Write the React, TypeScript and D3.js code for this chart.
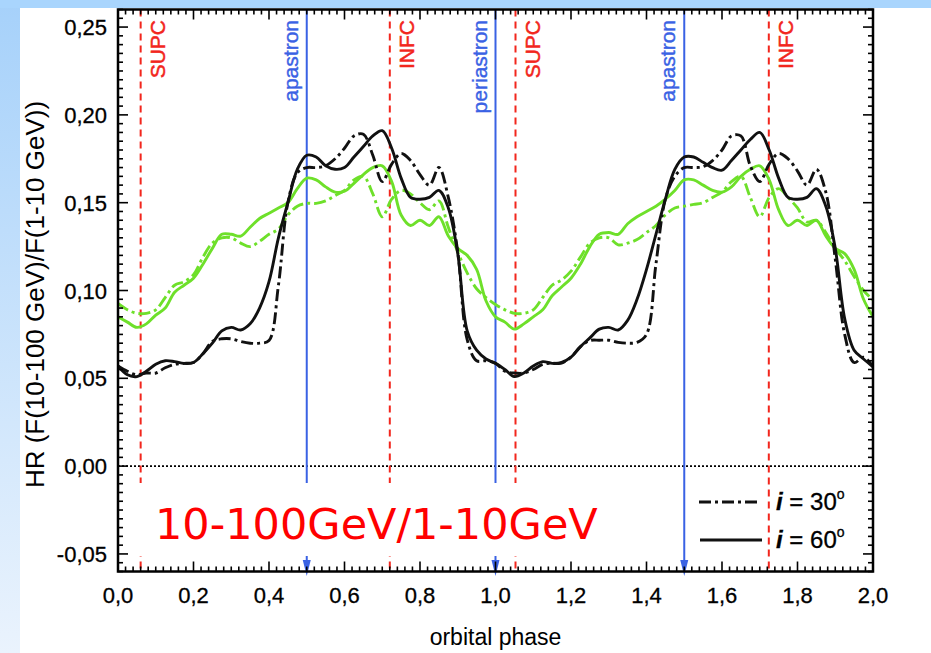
import React from "react";
import * as d3 from "d3";

// orbital phase grid (two orbits)
const PHASE = [
  0, 0.025, 0.05, 0.075, 0.1, 0.125, 0.15, 0.175, 0.2, 0.225, 0.25, 0.275, 0.3, 0.325, 0.35, 0.375, 0.4, 0.425, 0.45, 0.475,
  0.5, 0.525, 0.55, 0.575, 0.6, 0.625, 0.65, 0.675, 0.7, 0.725, 0.75, 0.775, 0.8, 0.825, 0.85, 0.875, 0.9, 0.925, 0.95, 0.975,
  1, 1.025, 1.05, 1.075, 1.1, 1.125, 1.15, 1.175, 1.2, 1.225, 1.25, 1.275, 1.3, 1.325, 1.35, 1.375, 1.4, 1.425, 1.45, 1.475,
  1.5, 1.525, 1.55, 1.575, 1.6, 1.625, 1.65, 1.675, 1.7, 1.725, 1.75, 1.775, 1.8, 1.825, 1.85, 1.875, 1.9, 1.925, 1.95, 1.975,
  2,
];

// black, i = 60 deg (solid)
const HR_BLACK_I60 = [
  0.057, 0.052, 0.051, 0.054, 0.058, 0.06, 0.0595, 0.0585, 0.059, 0.064, 0.07, 0.077, 0.079, 0.0775, 0.081, 0.09, 0.105, 0.13, 0.15, 0.169,
  0.177, 0.176, 0.171, 0.169, 0.17, 0.176, 0.182, 0.188, 0.191, 0.181, 0.164, 0.153, 0.152, 0.153, 0.157, 0.147, 0.121, 0.077, 0.066, 0.061,
  0.0585, 0.055, 0.051, 0.053, 0.057, 0.0595, 0.0585, 0.059, 0.062, 0.068, 0.073, 0.078, 0.079, 0.0775, 0.083, 0.095, 0.112, 0.132, 0.152, 0.169,
  0.176, 0.176, 0.173, 0.17, 0.1685, 0.174, 0.18, 0.186, 0.19, 0.18, 0.164, 0.153, 0.152, 0.153, 0.158, 0.148, 0.124, 0.084, 0.066, 0.061,
  0.0565,
];

// black, i = 30 deg (dash-dot)
const HR_BLACK_I30 = [
  0.057, 0.054, 0.052, 0.053, 0.053, 0.056, 0.058, 0.0585, 0.059, 0.064, 0.071, 0.0725, 0.0725, 0.071, 0.07, 0.07, 0.0715, 0.103, 0.15, 0.167,
  0.17, 0.17, 0.171, 0.175, 0.181, 0.188, 0.189, 0.177, 0.162, 0.172, 0.178, 0.174, 0.166, 0.16, 0.17, 0.153, 0.122, 0.072, 0.06, 0.06,
  0.0586, 0.054, 0.053, 0.053, 0.055, 0.058, 0.0586, 0.0586, 0.062, 0.068, 0.0715, 0.0717, 0.0717, 0.0705, 0.07, 0.0705, 0.075, 0.115, 0.152, 0.165,
  0.17, 0.17, 0.1705, 0.174, 0.18, 0.188, 0.188, 0.171, 0.162, 0.172, 0.178, 0.175, 0.168, 0.16, 0.169, 0.156, 0.118, 0.075, 0.059, 0.062,
  0.0566,
];

// green, i = 60 deg (solid)
const HR_GREEN_I60 = [
  0.085, 0.082, 0.079, 0.081, 0.086, 0.09, 0.099, 0.103, 0.107, 0.115, 0.124, 0.132, 0.132, 0.131, 0.136, 0.141, 0.144, 0.147, 0.15, 0.158,
  0.164, 0.163, 0.159, 0.156, 0.1565, 0.161, 0.166, 0.17, 0.171, 0.162, 0.143, 0.137, 0.14, 0.137, 0.142, 0.131, 0.124, 0.12, 0.112, 0.094,
  0.085, 0.082, 0.078, 0.081, 0.085, 0.089, 0.097, 0.102, 0.107, 0.115, 0.125, 0.132, 0.133, 0.132, 0.138, 0.142, 0.145, 0.148, 0.152, 0.157,
  0.163, 0.163, 0.16, 0.157, 0.156, 0.159, 0.165, 0.169, 0.171, 0.163, 0.146, 0.137, 0.14, 0.137, 0.14, 0.131, 0.124, 0.121, 0.112, 0.095,
  0.085,
];

// green, i = 30 deg (dash-dot)
const HR_GREEN_I30 = [
  0.0926, 0.089, 0.087, 0.087, 0.089, 0.096, 0.103, 0.105, 0.109, 0.119, 0.127, 0.13, 0.13, 0.127, 0.125, 0.128, 0.132, 0.135, 0.143, 0.148,
  0.1496, 0.1496, 0.151, 0.154, 0.157, 0.163, 0.165, 0.155, 0.142, 0.152, 0.157, 0.155, 0.15, 0.146, 0.151, 0.136, 0.122, 0.11, 0.101, 0.096,
  0.092, 0.089, 0.087, 0.087, 0.089, 0.096, 0.103, 0.106, 0.111, 0.119, 0.127, 0.13, 0.13, 0.126, 0.127, 0.129, 0.133, 0.137, 0.143, 0.147,
  0.148, 0.149, 0.15, 0.153, 0.156, 0.162, 0.165, 0.153, 0.142, 0.153, 0.158, 0.153, 0.147, 0.139, 0.14, 0.133, 0.124, 0.117, 0.108, 0.1,
  0.0945,
];

const X_TICKS = [0, 0.2, 0.4, 0.6, 0.8, 1.0, 1.2, 1.4, 1.6, 1.8, 2.0];
const Y_TICKS = [-0.05, 0, 0.05, 0.1, 0.15, 0.2, 0.25];

const RED_PHASES = [0.06, 0.72, 1.053, 1.724];
const RED_LABELS = ["SUPC", "INFC", "SUPC", "INFC"];
const BLUE_PHASES = [0.5, 1.0, 1.5];
const BLUE_LABELS = ["apastron", "periastron", "apastron"];

const LEGEND_LABELS = ["30", "60"];
const ANNOTATION = "10-100GeV/1-10GeV";
const X_TITLE = "orbital phase";
const Y_TITLE = "HR (F(10-100 GeV)/F(1-10 GeV))";

const BLACK = "#111111";
const GREEN = "#6ee02a";
const RED = "#f2261d";
const BLUE = "#3a62e4";
const FONT = "'Liberation Sans', Arial, sans-serif";
const DASHDOT = "12 4 3 4";

export default function App() {
  const W = 931;
  const H = 653;
  const x = d3.scaleLinear().domain([0, 2]).range([118, 873]);
  const y = d3.scaleLinear().domain([-0.06, 0.26]).range([571.5, 9.5]);
  const [x0, x1] = x.range();
  const [yb, yt] = y.range();

  const line = (vals: number[]) =>
    d3
      .line<number>()
      .x((_, i) => x(PHASE[i]))
      .y((d) => y(d))
      .curve(d3.curveCatmullRom.alpha(0.5))(vals) as string;

  const series = [
    { vals: HR_GREEN_I30, color: GREEN, dash: DASHDOT },
    { vals: HR_GREEN_I60, color: GREEN, dash: undefined },
    { vals: HR_BLACK_I30, color: BLACK, dash: DASHDOT },
    { vals: HR_BLACK_I60, color: BLACK, dash: undefined },
  ];

  const xMinor = d3.range(0, 2.0001, 0.02);
  const yMinor = d3.range(-0.06, 0.2601, 0.005);
  const fmtX = (v: number) => d3.format(".1f")(v).replace(".", ",").replace("−", "-");
  const fmtY = (v: number) => d3.format(".2f")(v).replace(".", ",").replace("−", "-");

  const isMajorX = (v: number) => Math.abs(v * 5 - Math.round(v * 5)) < 1e-6;
  const isMajorY = (v: number) => Math.abs(v * 20 - Math.round(v * 20)) < 1e-6;

  return (
    <svg
      width={W}
      height={H}
      style={{ position: "absolute", left: 0, top: 0, display: "block" }}
      fontFamily={FONT}
    >
      <defs>
        <linearGradient id="leftbg" x1="0" y1="0" x2="0" y2="1">
          <stop offset="0" stopColor="#a6d1fa" />
          <stop offset="1" stopColor="#eaf3fd" />
        </linearGradient>
        <clipPath id="plotclip">
          <rect x={x0} y={yt} width={x1 - x0} height={yb - yt} />
        </clipPath>
      </defs>
      <rect x={0} y={0} width={W} height={H} fill="#ffffff" />
      <rect x={0} y={0} width={20} height={H} fill="url(#leftbg)" />
      <rect x={0} y={0} width={W} height={8} fill="#a9d5fd" />

      {/* zero line */}
      <line x1={x0} x2={x1} y1={y(0)} y2={y(0)} stroke="#000" strokeWidth={1.6} strokeDasharray="2 2" />

      {/* red dashed conjunction lines */}
      {RED_PHASES.map((p, i) => (
        <g key={"r" + i}>
          <line x1={x(p)} x2={x(p)} y1={yt} y2={yb} stroke={RED} strokeWidth={2} strokeDasharray="7 5" />
          <text
            transform={`translate(${x(p) + 24},20) rotate(-90)`}
            textAnchor="end"
            fontSize={21}
            fill={RED}
            stroke={RED}
            strokeWidth={0.5}
          >
            {RED_LABELS[i]}
          </text>
        </g>
      ))}

      {/* blue apastron / periastron arrows */}
      {BLUE_PHASES.map((p, i) => (
        <g key={"b" + i}>
          <line x1={x(p)} x2={x(p)} y1={yt} y2={562} stroke={BLUE} strokeWidth={2} />
          <polygon
            points={`${x(p) - 4},560 ${x(p) + 4},560 ${x(p)},576`}
            fill={BLUE}
          />
          <text
            transform={`translate(${x(p) - 9},20) rotate(-90)`}
            textAnchor="end"
            fontSize={21}
            fill={BLUE}
            stroke={BLUE}
            strokeWidth={0.4}
          >
            {BLUE_LABELS[i]}
          </text>
        </g>
      ))}

      {/* curves */}
      <g clipPath="url(#plotclip)">
        {series.map((s, i) => (
          <path
            key={"s" + i}
            d={line(s.vals)}
            fill="none"
            stroke={s.color}
            strokeWidth={2.9}
            strokeDasharray={s.dash}
            strokeLinejoin="round"
          />
        ))}
      </g>

      {/* white annotation box */}
      <rect x={134} y={483} width={486} height={73} fill="#ffffff" />
      <text x={155} y={539} fontFamily="'DejaVu Sans', Verdana, sans-serif" fontSize={43} fill="#ff0000">
        {ANNOTATION}
      </text>

      {/* legend */}
      <line x1={699} x2={757} y1={502} y2={502} stroke={BLACK} strokeWidth={2.8} strokeDasharray={DASHDOT} />
      <line x1={700} x2={762} y1={540} y2={540} stroke={BLACK} strokeWidth={2.8} />
      {LEGEND_LABELS.map((l, i) => (
        <text key={"l" + i} x={776} y={510 + i * 38} fontSize={24} fill="#000" stroke="#000" strokeWidth={0.3}>
          <tspan fontStyle="italic" fontWeight="bold">i</tspan>
          <tspan> = {l}</tspan>
          <tspan fontSize={14} dy={-11}>o</tspan>
        </text>
      ))}

      {/* ticks */}
      {xMinor.map((v, i) => {
        const len = isMajorX(v) ? 10 : 5;
        return (
          <g key={"xt" + i}>
            <line x1={x(v)} x2={x(v)} y1={yb} y2={yb - len} stroke="#000" strokeWidth={1.6} />
            <line x1={x(v)} x2={x(v)} y1={yt} y2={yt + len} stroke="#000" strokeWidth={1.6} />
          </g>
        );
      })}
      {yMinor.map((v, i) => {
        const len = isMajorY(v) ? 10 : 5;
        return (
          <g key={"yt" + i}>
            <line x1={x0} x2={x0 + len} y1={y(v)} y2={y(v)} stroke="#000" strokeWidth={1.6} />
            <line x1={x1} x2={x1 - len} y1={y(v)} y2={y(v)} stroke="#000" strokeWidth={1.6} />
          </g>
        );
      })}

      {/* frame */}
      <rect x={x0} y={yt} width={x1 - x0} height={yb - yt} fill="none" stroke="#000" strokeWidth={2.5} />

      {/* tick labels */}
      {X_TICKS.map((v, i) => (
        <text key={"xl" + i} x={x(v)} y={603} textAnchor="middle" fontSize={22} fill="#000" stroke="#000" strokeWidth={0.3}>
          {fmtX(v)}
        </text>
      ))}
      {Y_TICKS.map((v, i) => (
        <text key={"yl" + i} x={107} y={y(v) + 8} textAnchor="end" fontSize={22} fill="#000" stroke="#000" strokeWidth={0.3}>
          {fmtY(v)}
        </text>
      ))}

      {/* axis titles */}
      <text x={(x0 + x1) / 2} y={645} textAnchor="middle" fontSize={23} fill="#000">
        {X_TITLE}
      </text>
      <text
        transform={`translate(44,${(yt + yb) / 2 + 4}) rotate(-90)`}
        textAnchor="middle"
        fontSize={26}
        fill="#000"
      >
        {Y_TITLE}
      </text>
    </svg>
  );
}
